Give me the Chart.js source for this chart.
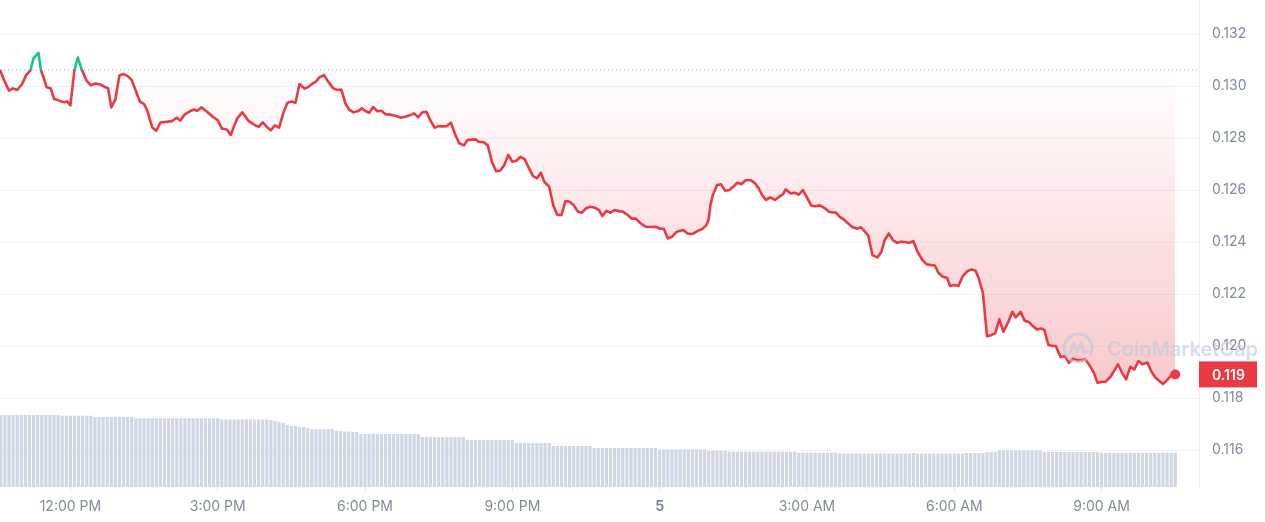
<!DOCTYPE html>
<html>
<head>
<meta charset="utf-8">
<script src="https://cdn.jsdelivr.net/npm/chart.js@4"></script>
<style>
  html, body { margin: 0; padding: 0; background: #fff; }
  #wrap { width: 1265px; height: 522px; position: relative; }
</style>
</head>
<body>
<div id="wrap"><canvas id="chart"></canvas></div>
<script>
// price, 24h window (times roll over midnight into day 5)
const priceTimes = [
  '10:34','10:39','10:45','10:50','10:55','11:01','11:06','11:11','11:15','11:21',
  '11:24','11:27','11:31','11:36','11:40','11:48','11:53','11:56','12:00','12:05',
  '12:09','12:14','12:20','12:25','12:31','12:37','12:43','12:46','12:50','12:55',
  '13:00','13:05','13:10','13:15','13:20','13:25','13:30','13:34','13:40','13:45',
  '13:50','13:56','14:04','14:10','14:14','14:20','14:26','14:31','14:35','14:40',
  '14:47','14:54','15:00','15:05','15:11','15:16','15:20','15:24','15:30','15:38',
  '15:44','15:50','15:55','16:00','16:05','16:10','16:15','16:20','16:25','16:30',
  '16:35','16:40','16:46','16:51','16:56','17:00','17:04','17:10','17:15','17:21',
  '17:26','17:31','17:36','17:41','17:46','17:52','17:56','18:00','18:05','18:10',
  '18:15','18:20','18:25','18:31','18:37','18:44','18:49','18:55','19:00','19:05',
  '19:10','19:15','19:20','19:25','19:30','19:35','19:40','19:45','19:50','19:55',
  '20:01','20:05','20:15','20:19','20:25','20:30','20:35','20:40','20:45','20:50',
  '20:55','21:00','21:05','21:10','21:15','21:20','21:25','21:30','21:35','21:39',
  '21:45','21:50','21:55','22:00','22:05','22:10','22:15','22:20','22:25','22:30',
  '22:35','22:41','22:46','22:50','22:55','23:00','23:05','23:10','23:15','23:21',
  '23:26','23:31','23:36','23:43','23:49','23:55','00:01','00:05','00:10','00:15',
  '00:21','00:29','00:34','00:40','00:46','00:52','00:57','01:00','01:02','01:05',
  '01:10','01:15','01:20','01:25','01:30','01:35','01:40','01:45','01:51','01:56',
  '02:01','02:05','02:10','02:15','02:21','02:26','02:31','02:34','02:40','02:45',
  '02:50','02:55','03:00','03:05','03:10','03:16','03:22','03:27','03:31','03:35',
  '03:40','03:45','03:50','03:55','04:01','04:06','04:10','04:15','04:20','04:26',
  '04:31','04:35','04:40','04:45','04:50','04:55','05:00','05:05','05:10','05:15',
  '05:21','05:26','05:31','05:36','05:41','05:46','05:51','05:55','06:00','06:05',
  '06:10','06:16','06:21','06:26','06:30','06:35','06:40','06:45','06:50','06:55',
  '07:00','07:06','07:11','07:15','07:21','07:26','07:31','07:36','07:41','07:46',
  '07:50','07:55','08:00','08:04','08:10','08:15','08:20','08:25','08:30','08:35',
  '08:40','08:45','08:50','08:55','09:01','09:05','09:11','09:16','09:20','09:25',
  '09:30','09:35','09:40','09:45','09:50','09:56','10:01','10:06','10:11','10:15',
  '10:20','10:25','10:30'
];
const prices = [
  0.13062,0.13023,0.12982,0.12991,0.12985,0.13008,0.13042,0.13059,0.13107,0.13128,
  0.13062,0.13036,0.12995,0.12991,0.12951,0.12942,0.12938,0.12941,0.12926,0.13062,
  0.13110,0.13062,0.13020,0.13003,0.13010,0.13005,0.12995,0.12992,0.12918,0.12949,
  0.13041,0.13046,0.13038,0.13023,0.12981,0.12940,0.12931,0.12905,0.12841,0.12828,
  0.12860,0.12862,0.12865,0.12878,0.12867,0.12892,0.12903,0.12910,0.12905,0.12918,
  0.12901,0.12882,0.12869,0.12837,0.12833,0.12812,0.12846,0.12876,0.12899,0.12865,
  0.12853,0.12843,0.12860,0.12843,0.12830,0.12849,0.12840,0.12895,0.12935,0.12941,
  0.12936,0.13008,0.12990,0.12997,0.13010,0.13017,0.13033,0.13042,0.13017,0.12992,
  0.12985,0.12987,0.12933,0.12908,0.12899,0.12904,0.12915,0.12905,0.12897,0.12919,
  0.12903,0.12905,0.12892,0.12890,0.12886,0.12878,0.12882,0.12888,0.12895,0.12880,
  0.12899,0.12901,0.12867,0.12840,0.12846,0.12845,0.12846,0.12859,0.12815,0.12780,
  0.12772,0.12792,0.12795,0.12786,0.12784,0.12772,0.12709,0.12673,0.12674,0.12695,
  0.12735,0.12709,0.12713,0.12728,0.12719,0.12686,0.12655,0.12645,0.12667,0.12632,
  0.12613,0.12542,0.12504,0.12504,0.12558,0.12555,0.12542,0.12517,0.12513,0.12530,
  0.12536,0.12532,0.12523,0.12500,0.12520,0.12513,0.12523,0.12519,0.12517,0.12504,
  0.12490,0.12490,0.12474,0.12459,0.12458,0.12459,0.12451,0.12451,0.12414,0.12420,
  0.12440,0.12446,0.12433,0.12431,0.12442,0.12450,0.12465,0.12488,0.12542,0.12581,
  0.12619,0.12622,0.12597,0.12600,0.12613,0.12628,0.12623,0.12638,0.12638,0.12628,
  0.12607,0.12581,0.12562,0.12572,0.12562,0.12574,0.12585,0.12603,0.12587,0.12590,
  0.12582,0.12600,0.12572,0.12541,0.12538,0.12541,0.12530,0.12517,0.12514,0.12514,
  0.12497,0.12487,0.12472,0.12459,0.12451,0.12457,0.12443,0.12424,0.12350,0.12341,
  0.12363,0.12408,0.12433,0.12408,0.12397,0.12401,0.12400,0.12397,0.12404,0.12363,
  0.12331,0.12315,0.12312,0.12310,0.12280,0.12267,0.12263,0.12231,0.12235,0.12231,
  0.12267,0.12288,0.12295,0.12290,0.12260,0.12203,0.12038,0.12042,0.12049,0.12103,
  0.12055,0.12093,0.12132,0.12110,0.12132,0.12097,0.12093,0.12077,0.12064,0.12068,
  0.12062,0.12004,0.12000,0.12000,0.11957,0.11962,0.11936,0.11951,0.11946,0.11946,
  0.11949,0.11927,0.11901,0.11859,0.11863,0.11863,0.11882,0.11908,0.11930,0.11897,
  0.11872,0.11920,0.11910,0.11942,0.11930,0.11937,0.11901,0.11878,0.11865,0.11854,
  0.11869,0.11886,0.11891
];

// volume bars, one per 5 minutes starting at volStart (relative units)
const volStart = '10:35';
const volumes = [
  72,72,72,72,72,72,72,72,72,72,72,72,
  72,72,72,71.3,71.3,71.3,71.3,71.3,71.3,71.3,71.3,70,
  70,70,70,70,70,70,70,70,70,68.7,68.7,68.7,
  68.7,68.7,68.7,68.7,68.7,68.7,68.7,68.7,68.7,68.7,68.7,68.7,
  68.7,68.7,68.7,68.7,68.7,68.7,67.5,67.5,67.5,67.5,67.5,67.5,
  67.5,67.5,67.5,67.5,67.5,67.5,67,66,65,64,62,61,
  61,60,60,59,58,58,58,58,58,58,56,56,
  55.5,55.5,55,55,53,53,53,53.5,53,53,53,53,
  53,53,53,53,53,53,53,50,50,50,50,50,
  50,50,50,50,50,50,47,47,47,47,47,47,
  47,47,47,47,47,47,44,44,44,44,44,44,
  44,44,44,41,41,41,41,41,41,41,41,41,
  41,39,39,39,39,39,39,39,39,39,39,39,
  39,39,39,39,39,37.5,37.5,37.5,37.5,37.5,37.5,37.5,
  37.5,37.5,37.5,37.5,37.5,36.3,36.3,36.3,36.3,36.3,35.3,35.3,
  35.3,35.3,35.3,35.3,35.3,35.3,35.3,35.3,35.3,35.3,35.3,35.3,
  35.3,35.3,35.3,34.3,34.3,34.3,34.3,34.3,34.3,34.3,34.3,34.3,
  34.3,33.5,33.5,33.5,33.5,34,33.5,33.5,33.5,33.5,33.5,33.5,
  33.5,33.5,33.5,33.5,33.5,33.5,33.5,34,33.5,33.5,33.5,33.5,
  33.5,33.5,33.5,33.5,33.5,33.5,33.5,33.5,34,34,34,34,
  34,35,35,35,36.5,36.5,36.5,36.5,36.5,36.5,36.5,36.5,
  36.5,36.5,36.5,35,35,35,35,35,35,35,35,35,
  35,35,35,35,35,34.3,34.3,34.3,34.3,34.3,34.3,34.3,
  34.3,34.3,34.3,34.3,34.3,34.3,34.3,34.3,34.3,34.3,34.3,34.3
];
const volumeMax = 487;

const yTicks = [0.116, 0.118, 0.120, 0.122, 0.124, 0.126, 0.128, 0.130, 0.132];
const yRange = [0.11458, 0.13331];
const xTickTimes = ['12:00', '15:00', '18:00', '21:00', '00:00', '03:00', '06:00', '09:00'];
const xTickLabels = ['12:00 PM', '3:00 PM', '6:00 PM', '9:00 PM', '5', '3:00 AM', '6:00 AM', '9:00 AM'];
const viewRange = ['10:34', '10:59']; // second value is on the next day

const red = '#ea3943';
const green = '#16c784';

// "HH:MM" list -> minutes since midnight of day 1, rolling over when time goes back
function toMinutes(list) {
  let day = 0, prev = -1;
  return list.map(t => {
    const [h, m] = t.split(':').map(Number);
    let v = h * 60 + m + day;
    if (v < prev) { day += 1440; v += 1440; }
    prev = v;
    return v;
  });
}

const tPrice = toMinutes(priceTimes);
const xTicks = toMinutes(xTickTimes);
const xMin = toMinutes([viewRange[0]])[0];
const xMax = toMinutes([viewRange[1]])[0] + 1440;
const volStartMin = toMinutes([volStart])[0];
const openPrice = prices[0];
const lastPrice = prices[prices.length - 1];

function splitStroke(c) {
  const ch = c.chart, a = ch.chartArea;
  if (!a) return red;
  const yRef = ch.scales.y.getPixelForValue(openPrice);
  const t = Math.min(Math.max((yRef - a.top) / (a.bottom - a.top), 0), 1);
  const g = ch.ctx.createLinearGradient(0, a.top, 0, a.bottom);
  g.addColorStop(0, green);
  g.addColorStop(t, green);
  g.addColorStop(t, red);
  g.addColorStop(1, red);
  return g;
}

function splitFill(c) {
  const ch = c.chart, a = ch.chartArea;
  if (!a) return 'rgba(234,57,67,0.1)';
  const yRef = ch.scales.y.getPixelForValue(openPrice);
  const t = Math.min(Math.max((yRef - a.top) / (a.bottom - a.top), 0), 1);
  const g = ch.ctx.createLinearGradient(0, a.top, 0, a.bottom);
  g.addColorStop(0, 'rgba(22,199,132,0.15)');
  g.addColorStop(t, 'rgba(22,199,132,0)');
  g.addColorStop(t, 'rgba(234,57,67,0)');
  g.addColorStop(1, 'rgba(234,57,67,0.36)');
  return g;
}

const overlay = {
  id: 'overlay',
  afterDraw(chart) {
    const { ctx, chartArea: a, scales } = chart;
    // watermark
    ctx.save();
    const wm = 'rgba(188,199,220,0.6)';
    const cx = a.right - 121, cy = a.bottom - 139;
    ctx.strokeStyle = wm;
    ctx.lineWidth = 3;
    ctx.lineCap = 'round';
    ctx.lineJoin = 'round';
    ctx.beginPath();
    ctx.arc(cx, cy, 14, 0.3 * Math.PI, 2.15 * Math.PI);
    ctx.stroke();
    ctx.beginPath();
    ctx.moveTo(cx - 8, cy + 5);
    ctx.lineTo(cx - 4, cy - 5);
    ctx.lineTo(cx - 1, cy + 4);
    ctx.lineTo(cx + 3, cy - 5);
    ctx.lineTo(cx + 6, cy + 5);
    ctx.lineTo(cx + 10, cy + 3);
    ctx.stroke();
    ctx.fillStyle = wm;
    ctx.font = '600 20px Inter';
    ctx.textBaseline = 'middle';
    ctx.textAlign = 'left';
    ctx.fillText('CoinMarketCap', a.right - 92, cy + 2);
    ctx.restore();

    // last price tag
    const y = scales.y.getPixelForValue(lastPrice);
    ctx.save();
    ctx.fillStyle = red;
    ctx.fillRect(a.right, y - 13, 58, 26);
    ctx.fillStyle = '#ffffff';
    ctx.font = '600 14px Inter';
    ctx.textBaseline = 'middle';
    ctx.textAlign = 'left';
    ctx.fillText(lastPrice.toFixed(3), a.right + 13, y + 1);
    ctx.restore();
  }
};

Chart.defaults.font.family = 'Inter';

new Chart(document.getElementById('chart'), {
  type: 'line',
  data: {
    datasets: [
      {
        type: 'line',
        label: 'Price',
        data: tPrice.map((x, i) => ({ x, y: prices[i] })),
        yAxisID: 'y',
        order: 1,
        borderWidth: 2.6,
        borderJoinStyle: 'round',
        tension: 0,
        borderColor: splitStroke,
        backgroundColor: splitFill,
        fill: { value: openPrice },
        pointRadius: c => c.dataIndex === prices.length - 1 ? 5 : 0,
        pointBackgroundColor: red,
        pointBorderWidth: 0,
        pointHoverRadius: 0
      },
      {
        type: 'line',
        label: 'Open',
        data: [{ x: xMin, y: openPrice }, { x: xMax, y: openPrice }],
        yAxisID: 'y',
        order: 2,
        borderColor: '#9ea5b4',
        borderWidth: 1,
        borderDash: [1, 3],
        pointRadius: 0,
        fill: false
      },
      {
        type: 'bar',
        label: 'Volume',
        data: volumes.map((v, i) => ({ x: volStartMin + i * 5, y: v })),
        yAxisID: 'yv',
        order: 3,
        backgroundColor: '#cfd6e4',
        barPercentage: 0.78,
        categoryPercentage: 1
      }
    ]
  },
  options: {
    responsive: true,
    maintainAspectRatio: false,
    animation: false,
    layout: { padding: 0, autoPadding: false },
    plugins: {
      legend: { display: false },
      tooltip: { enabled: false }
    },
    scales: {
      x: {
        type: 'linear',
        offset: false,
        min: xMin,
        max: xMax,
        afterBuildTicks: s => { s.ticks = xTicks.map(v => ({ value: v })); },
        ticks: {
          autoSkip: false,
          maxRotation: 0,
          padding: 7,
          color: '#808a9d',
          font: c => ({ family: 'Inter', size: 14, weight: xTickLabels[c.index] === '5' ? '700' : '400' }),
          callback: v => xTickLabels[xTicks.indexOf(v)]
        },
        grid: { offset: false, drawOnChartArea: false, drawTicks: true, tickLength: 4, color: '#dfe3ea' },
        border: { display: false },
        afterFit: s => { s.height = 35; s.paddingLeft = 0; s.paddingRight = 0; }
      },
      y: {
        position: 'right',
        min: yRange[0],
        max: yRange[1],
        afterBuildTicks: s => { s.ticks = yTicks.map(v => ({ value: v })); },
        ticks: {
          padding: 13,
          color: '#808a9d',
          font: { family: 'Inter', size: 14 },
          callback: v => v.toFixed(3)
        },
        grid: { color: '#f1f3f6', drawTicks: false },
        border: { display: true, color: '#eef0f3' },
        afterFit: s => { s.width = 66; s.paddingTop = 0; s.paddingBottom = 0; }
      },
      yv: {
        display: false,
        min: 0,
        max: volumeMax
      }
    }
  },
  plugins: [overlay]
});
</script>
</body>
</html>
